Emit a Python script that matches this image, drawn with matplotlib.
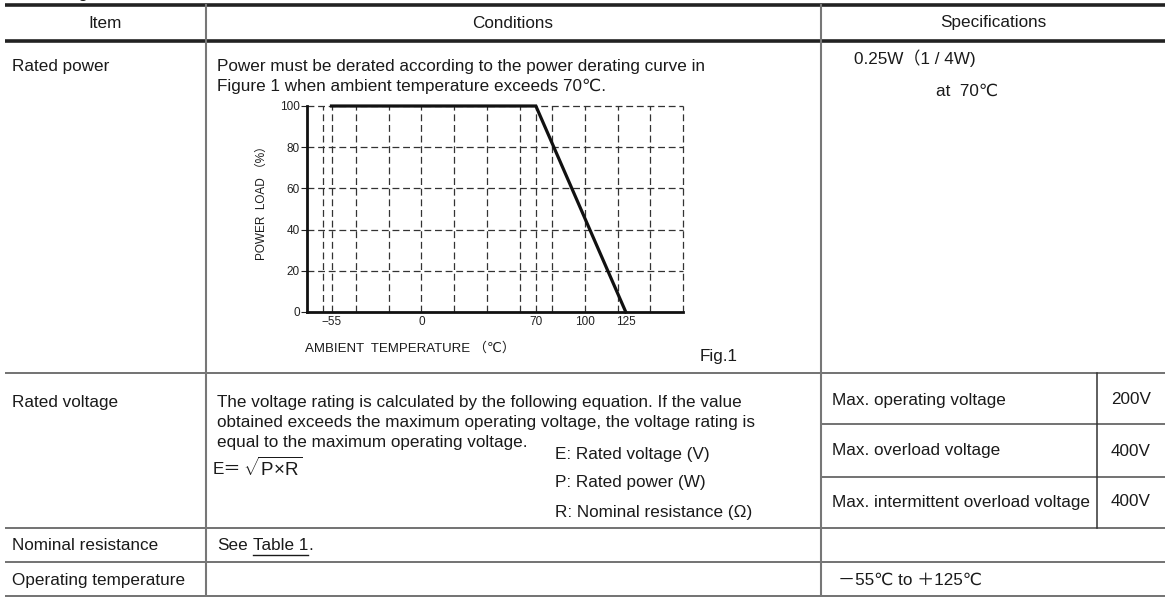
import matplotlib
matplotlib.use("Agg")
import matplotlib.pyplot as plt

plt.rcParams['font.family'] = ['Liberation Sans', 'DejaVu Sans', 'Noto Sans CJK JP']
plt.rcParams['mathtext.fontset'] = 'custom'
plt.rcParams['mathtext.rm'] = 'Liberation Sans'
plt.rcParams['mathtext.it'] = 'Liberation Sans'
plt.rcParams['mathtext.bf'] = 'Liberation Sans'

# ---- derating curve data ----
temps = [-55, 70, 125]
load = [100, 100, 0]
x_ticks = [-55, 0, 70, 100, 125]
x_tick_labels = ["\u221255", "0", "70", "100", "125"]
y_ticks = [0, 20, 40, 60, 80, 100]
x_grid = [-60, -55, -40, -20, 0, 20, 40, 60, 70, 80, 100, 120, 140, 160]
y_grid = [20, 40, 60, 80, 100]

# ---- table text ----
headers = ["Item", "Conditions", "Specifications"]
items = ["Rated power", "Rated voltage", "Nominal resistance", "Operating temperature"]
power_cond = ["Power must be derated according to the power derating curve in",
              "Figure 1 when ambient temperature exceeds 70\u2103."]
power_spec = ["0.25W\uff081 / 4W)", "at  70\u2103"]
volt_cond = ["The voltage rating is calculated by the following equation. If the value",
             "obtained exceeds the maximum operating voltage, the voltage rating is",
             "equal to the maximum operating voltage."]
volt_vars = ["E: Rated voltage (V)", "P: Rated power (W)", "R: Nominal resistance (\u03a9)"]
volt_spec_names = ["Max. operating voltage", "Max. overload voltage",
                   "Max. intermittent overload voltage"]
volt_spec_vals = ["200V", "400V", "400V"]
temp_spec = "\uff0d55\u2103 to \uff0b125\u2103"

W, H = 1169, 597
fig = plt.figure(figsize=(W / 100, H / 100), dpi=100)
ax0 = fig.add_axes([0, 0, 1, 1])
ax0.set_xlim(0, W)
ax0.set_ylim(H, 0)
ax0.axis('off')

tc = '#1a1a1a'
fs = 12.3

# title fragment cut off at top
ax0.text(37, -3, "Ratings", fontsize=13, color=tc, va='baseline', ha='left')

# table rules
thick = dict(color='#222222', lw=2.6, solid_capstyle='butt')
thin = dict(color='#5a5a5a', lw=1.2, solid_capstyle='butt')
ax0.plot([5, 1165], [5, 5], **thick)
ax0.plot([5, 1165], [41, 41], **thick)
for y in [373, 528, 562, 596]:
    ax0.plot([5, 1165], [y, y], **thin)
for y in [424, 477]:
    ax0.plot([821, 1165], [y, y], **thin)
ax0.plot([206, 206], [5, 597], color='#777777', lw=1.5)
ax0.plot([821, 821], [5, 597], color='#777777', lw=1.5)
ax0.plot([1097, 1097], [373, 528], color='#333333', lw=1.1)

# headers
for x, t in zip([105, 513, 993], headers):
    ax0.text(x, 23, t, fontsize=fs, color=tc, ha='center', va='center')

# item column
for y, t in zip([67, 402, 545, 580], items):
    ax0.text(12, y, t, fontsize=fs, color=tc, ha='left', va='center')

# rated power
for i, t in enumerate(power_cond):
    ax0.text(217, 66 + 20 * i, t, fontsize=fs, color=tc, ha='left', va='center')
ax0.text(854, 58, power_spec[0], fontsize=fs, color=tc, ha='left', va='center')
ax0.text(936, 91, power_spec[1], fontsize=fs, color=tc, ha='left', va='center')
ax0.text(700, 357, "Fig.1", fontsize=fs, color=tc, ha='left', va='center')

# rated voltage
for i, t in enumerate(volt_cond):
    ax0.text(217, 402 + 20.5 * i, t, fontsize=fs, color=tc, ha='left', va='center')
for i, t in enumerate(volt_vars):
    ax0.text(555, 454 + 29 * i, t, fontsize=fs, color=tc, ha='left', va='center')
ax0.text(213, 470, "E\uff1d", fontsize=fs, color=tc, ha='left', va='center')
ax0.text(243, 468, r"$\sqrt{\mathrm{P}\!\times\!\mathrm{R}}$", fontsize=13.5, color=tc,
         ha='left', va='center')
for i, (n, v) in enumerate(zip(volt_spec_names, volt_spec_vals)):
    y = 400 + 51 * i
    ax0.text(832, y, n, fontsize=fs, color=tc, ha='left', va='center')
    ax0.text(1131, y, v, fontsize=fs, color=tc, ha='center', va='center')

# nominal resistance: "See Table 1." with underlined "Table 1"
fig.canvas.draw()
rend = fig.canvas.get_renderer()
inv = ax0.transData.inverted()
t_see = ax0.text(217, 545, "See", fontsize=fs, color=tc, ha='left', va='center')
x_end = inv.transform(t_see.get_window_extent(rend).get_points())[:, 0].max()
tx0 = x_end + 5
t_tab = ax0.text(tx0, 545, "Table 1", fontsize=fs, color=tc, ha='left', va='center')
tx1 = inv.transform(t_tab.get_window_extent(rend).get_points())[:, 0].max()
ax0.plot([tx0, tx1], [554.5, 554.5], color=tc, lw=1.0)
ax0.text(tx1 + 0.5, 545, ".", fontsize=fs, color=tc, ha='left', va='center')

# operating temperature
ax0.text(838, 580, temp_spec, fontsize=fs, color=tc, ha='left', va='center')

# ---- derating chart ----
L, R, T, B = 307, 683, 106, 312
ax = fig.add_axes([L / W, 1 - B / H, (R - L) / W, (B - T) / H])
ax.set_xlim(-70, 160)
ax.set_ylim(0, 100)
gkw = dict(color='#333333', lw=0.9, linestyle=(0, (5.5, 3)), clip_on=False)
for gx in x_grid:
    ax.axvline(gx, **gkw)
for gy in y_grid:
    ax.axhline(gy, **gkw)
ax.plot(temps, load, color='#111111', lw=2.3, solid_joinstyle='miter', clip_on=False,
        zorder=5)
for s in ['top', 'right']:
    ax.spines[s].set_visible(False)
for s in ['left', 'bottom']:
    ax.spines[s].set_linewidth(2.0)
    ax.spines[s].set_color('#111111')
    ax.spines[s].set_zorder(6)
ax.set_xticks(x_ticks)
ax.set_xticklabels(x_tick_labels)
ax.set_yticks(y_ticks)
ax.tick_params(axis='both', labelsize=8.5, colors='#222222', length=4, width=0.8, pad=1)
ax.tick_params(axis='x', length=0, pad=3)
ax.patch.set_alpha(0)

ax0.text(262, 200, "POWER  LOAD \uff08%\uff09", fontsize=8.5, color=tc, rotation=90,
         ha='center', va='center')
ax0.text(410, 348, "AMBIENT  TEMPERATURE \uff08\u2103\uff09", fontsize=9.5, color=tc,
         ha='center', va='center')

fig.savefig("out.png", dpi=100)
